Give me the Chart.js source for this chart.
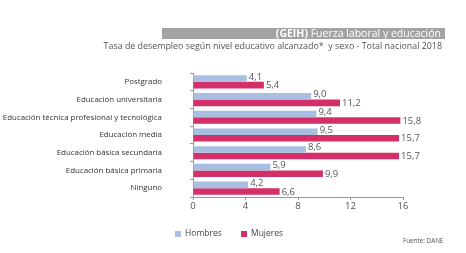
<!DOCTYPE html>
<html lang="es">
<head>
  <meta charset="UTF-8" />
  <title>Fuerza laboral y educación</title>
  <script src="https://cdn.jsdelivr.net/npm/chart.js"></script>
  <style>
    body { margin: 0; background: #fff; font-family: 'Open Sans', sans-serif; }
    .wrap { position: relative; width: 466px; height: 253px; overflow: hidden; }
    #grafico { position: absolute; left: 0; top: 0; }
    .barra-titulo {
      position: absolute; left: 162px; top: 28px; width: 283px; height: 11px;
      background: #a3a3a3; color: #fff; font-size: 10.5px; line-height: 11px;
      text-align: right; padding-right: 4px; box-sizing: border-box; white-space: nowrap;
    }
    .barra-titulo b { font-weight: 700; }
    .subtitulo {
      position: absolute; right: 24px; top: 39px; font-size: 8.9px; color: #555; white-space: nowrap;
    }
    .leyenda { position: absolute; top: 227px; font-size: 8.5px; color: #444; white-space: nowrap; }
    .leyenda span.cuadro { display: inline-block; width: 6px; height: 6px; margin-right: 4px; vertical-align: -0.5px; }
    .fuente { position: absolute; left: 403px; top: 236px; font-size: 6.3px; color: #555; }
  </style>
</head>
<body>
  <div class="wrap">
    <canvas id="grafico" width="466" height="253"></canvas>
    <div class="barra-titulo"><b>(GEIH)</b> Fuerza laboral y educación</div>
    <div class="subtitulo">Tasa de desempleo según nivel educativo alcanzado*&nbsp; y sexo - Total nacional 2018</div>
    <div class="leyenda" style="left:175px"><span class="cuadro" style="background:#a8bfe1"></span>Hombres</div>
    <div class="leyenda" style="left:241px"><span class="cuadro" style="background:#d42f68"></span>Mujeres</div>
    <div class="fuente">Fuente: DANE</div>
  </div>

  <script>
    // datos
    const niveles = [
      'Postgrado',
      'Educación universitaria',
      'Educación técnica profesional y tecnológica',
      'Educación media',
      'Educación básica secundaria',
      'Educación básica primaria',
      'Ninguno'
    ];
    const hombres = [4.1, 9.0, 9.4, 9.5, 8.6, 5.9, 4.2];
    const mujeres = [5.4, 11.2, 15.8, 15.7, 15.7, 9.9, 6.6];
    const ticksX = [0, 4, 8, 12, 16];

    const formatar = v => v.toFixed(1).replace('.', ',');

    // etiquetas de valor al final de cada barra
    const etiquetas = {
      id: 'etiquetas',
      afterDatasetsDraw(chart) {
        const ctx = chart.ctx;
        ctx.save();
        ctx.font = '9.5px "Open Sans"';
        ctx.fillStyle = '#555';
        ctx.textAlign = 'left';
        chart.data.datasets.forEach((ds, i) => {
          const meta = chart.getDatasetMeta(i);
          meta.data.forEach((bar, j) => {
            ctx.textBaseline = i === 0 ? 'bottom' : 'middle';
            ctx.fillText(formatar(ds.data[j]), bar.x + 2, i === 0 ? bar.y + 3 : bar.y + 0.5);
          });
        });
        ctx.restore();
      }
    };

    new Chart(document.getElementById('grafico'), {
      type: 'bar',
      data: {
        labels: niveles,
        datasets: [
          { label: 'Hombres', data: hombres, backgroundColor: '#a8bfe1' },
          { label: 'Mujeres', data: mujeres, backgroundColor: '#d42f68' }
        ]
      },
      options: {
        indexAxis: 'y',
        responsive: false,
        animation: false,
        categoryPercentage: 0.74,
        barPercentage: 1.0,
        layout: { padding: { left: 0, right: 63, top: 73, bottom: 42 } },
        plugins: { legend: { display: false }, tooltip: { enabled: false } },
        scales: {
          x: {
            min: 0, max: 16,
            afterBuildTicks: s => { s.ticks = ticksX.map(v => ({ value: v })); },
            afterFit: s => { s.height = 14; },
            grid: { drawOnChartArea: false, tickLength: 3, color: '#999' },
            border: { color: '#999' },
            ticks: { font: { size: 9.5, family: 'Open Sans' }, color: '#555', padding: 1 }
          },
          y: {
            afterFit: s => { s.width = 193; },
            grid: { drawOnChartArea: false, tickLength: 3, color: '#999', offset: true },
            border: { color: '#999' },
            ticks: { font: { size: 7.9, family: 'Open Sans' }, color: '#333', padding: 28 }
          }
        }
      },
      plugins: [etiquetas]
    });
  </script>
</body>
</html>
